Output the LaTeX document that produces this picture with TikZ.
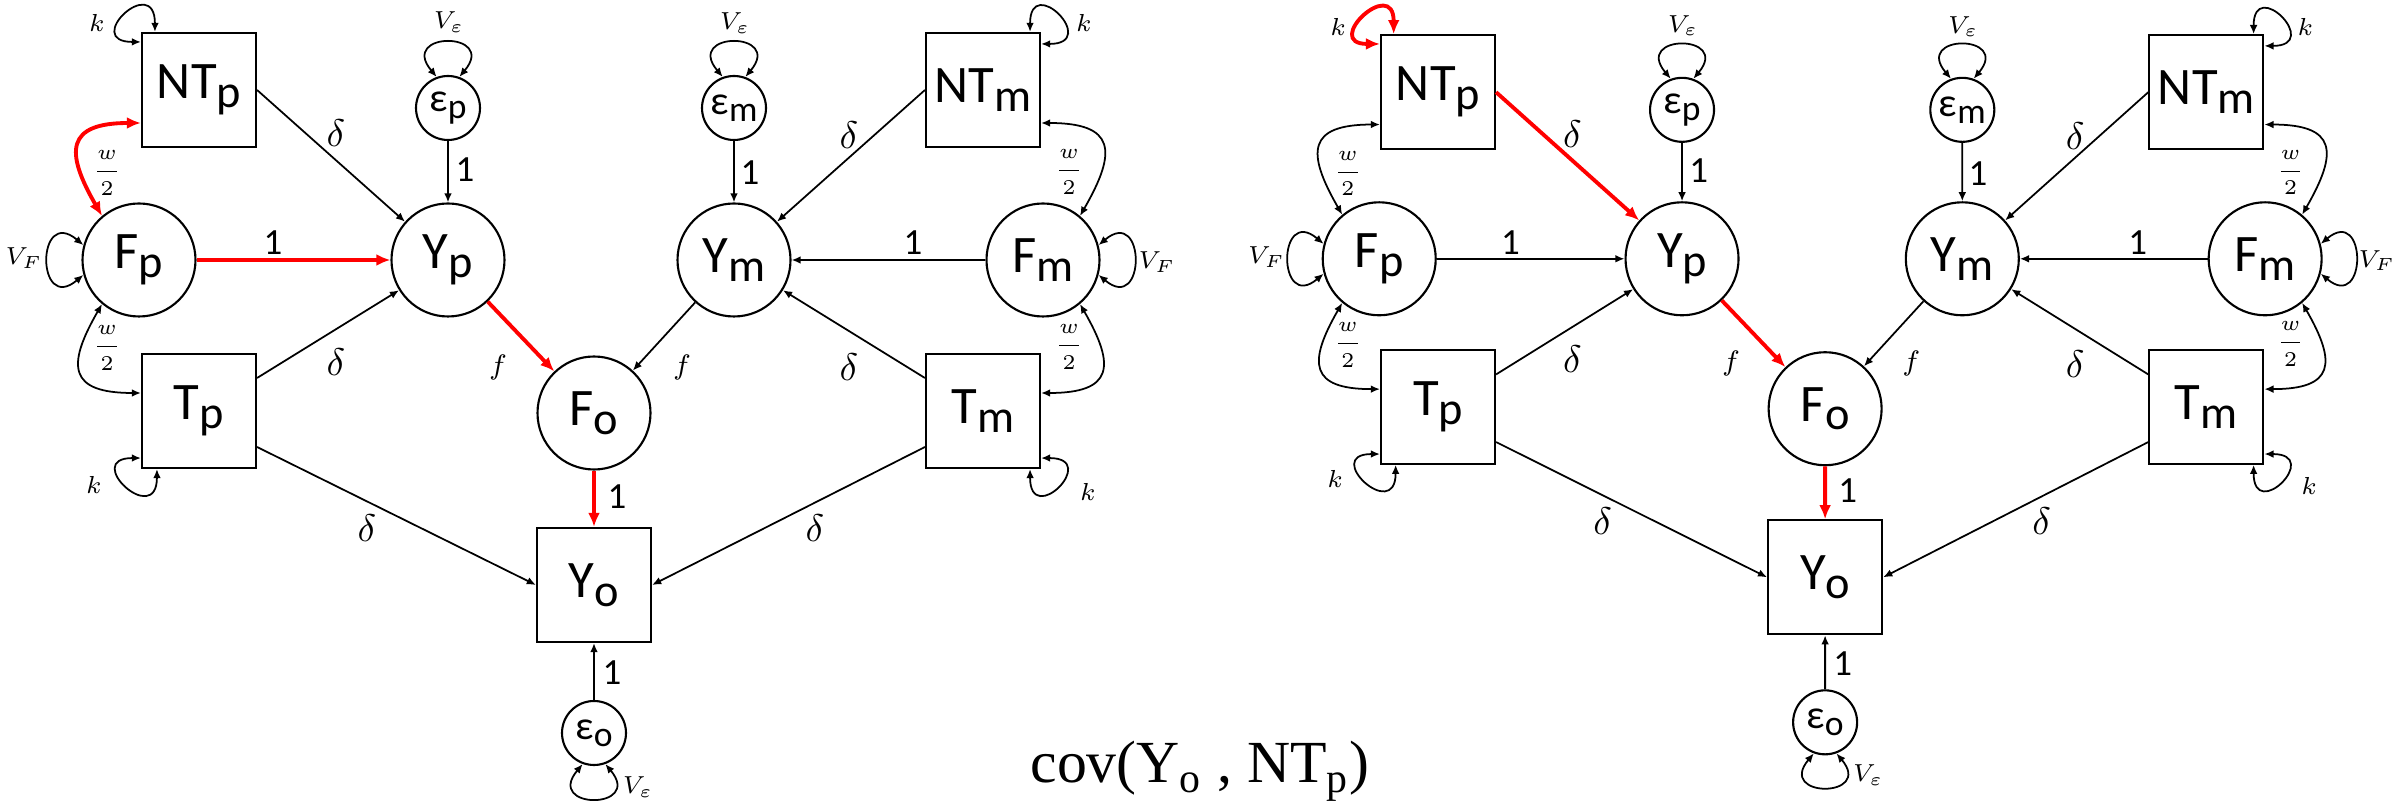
\documentclass[tikz,border=0pt]{standalone}
\usepackage{fontspec}
\setmainfont{Carlito}
\newfontfamily\capfont{Liberation Serif}
\usetikzlibrary{arrows.meta}
\newcommand{\lo}[1]{\raisebox{-0.35ex}{\scalebox{0.88}{#1}}}

\begin{document}
\begin{tikzpicture}[
  obs/.style={draw, line width=0.6pt, minimum width=1.14cm, minimum height=1.14cm,
              inner sep=0pt, font=\fontsize{15}{18}\selectfont},
  lat/.style={draw, circle, line width=0.6pt, minimum size=1.13cm, inner sep=0pt,
              font=\fontsize{15}{18}\selectfont},
  res/.style={draw, circle, line width=0.6pt, minimum size=0.64cm, inner sep=0pt,
              font=\fontsize{11.5}{13}\selectfont},
  pth/.style={-{Latex[length=2.6pt,width=2.2pt]}, line width=0.5pt},
  hl/.style={-{Latex[length=4pt,width=3.4pt]}, red, line width=1.1pt},
  var/.style={{Latex[length=2.6pt,width=2.2pt]}-{Latex[length=2.6pt,width=2.2pt]}, line width=0.5pt},
  hlvar/.style={{Latex[length=4pt,width=3.4pt]}-{Latex[length=4pt,width=3.4pt]}, red, line width=1.1pt},
  one/.style={font=\fontsize{10.5}{12}\selectfont},
  dl/.style={font=\fontsize{11}{13}\selectfont},
  fl/.style={font=\fontsize{8}{10}\selectfont},
  sm/.style={font=\fontsize{7}{8}\selectfont},
  wl/.style={font=\fontsize{6}{7}\selectfont, inner sep=0pt}
]
\useasboundingbox (0,0) rectangle (24.07,-8.09);
% ---------------- left: path through F_p ----------------
\node[obs] (lNTp) at (1.99,-0.90) {NT\lo{p}};
\node[lat] (lFp) at (1.39,-2.60) {F\lo{p}};
\node[obs] (lTp) at (1.99,-4.11) {T\lo{p}};
\node[res] (lep) at (4.48,-1.08) {ε\lo{p}};
\node[lat] (lYp) at (4.48,-2.60) {Y\lo{p}};
\node[res] (lem) at (7.34,-1.08) {ε\lo{m}};
\node[lat] (lYm) at (7.34,-2.60) {Y\lo{m}};
\node[obs] (lNTm) at (9.83,-0.90) {NT\lo{m}};
\node[lat] (lFm) at (10.43,-2.60) {F\lo{m}};
\node[obs] (lTm) at (9.83,-4.11) {T\lo{m}};
\node[lat] (lFo) at (5.94,-4.13) {F\lo{o}};
\node[obs] (lYo) at (5.94,-5.85) {Y\lo{o}};
\node[res] (leo) at (5.94,-7.33) {ε\lo{o}};
\draw[pth] (lNTp.east) -- (lYp);
\draw[hl] (lFp) -- (lYp);
\draw[pth] ([yshift=0.33cm]lTp.east) -- (lYp);
\draw[pth] (lep) -- (lYp);
\draw[pth] (lem) -- (lYm);
\draw[pth] (lNTm.west) -- (lYm);
\draw[pth] (lFm) -- (lYm);
\draw[pth] ([yshift=0.33cm]lTm.west) -- (lYm);
\draw[hl] (lYp) -- (lFo);
\draw[pth] (lYm) -- (lFo);
\draw[hl] (lFo) -- (lYo);
\draw[pth] ([yshift=-0.36cm]lTp.east) -- (lYo.west);
\draw[pth] ([yshift=-0.36cm]lTm.west) -- (lYo.east);
\draw[pth] (leo) -- (lYo);
\draw[hlvar] ([yshift=-0.33cm]lNTp.west) to[out=180,in=120,looseness=1.9] (lFp.130);
\draw[var] (lFp.230) to[out=240,in=180,looseness=1.9] ([yshift=0.18cm]lTp.west);
\draw[var] ([yshift=-0.33cm]lNTm.east) to[out=0,in=60,looseness=1.9] (lFm.50);
\draw[var] (lFm.-50) to[out=-60,in=0,looseness=1.9] ([yshift=0.18cm]lTm.east);
\draw[var] ([xshift=0.14cm]lNTp.north west) to[out=90,in=180,distance=0.6cm] ([yshift=-0.10cm]lNTp.north west);
\draw[var] ([yshift=0.11cm]lTp.south west) to[out=180,in=-90,distance=0.6cm] ([xshift=0.16cm]lTp.south west);
\draw[var] ([xshift=-0.11cm]lNTm.north east) to[out=90,in=0,distance=0.6cm] ([yshift=-0.12cm]lNTm.north east);
\draw[var] ([yshift=0.11cm]lTm.south east) to[out=0,in=-90,distance=0.6cm] ([xshift=-0.11cm]lTm.south east);
\draw[var] (lFp.165) to[out=140,in=220,distance=0.62cm] (lFp.195);
\draw[var] (lFm.15) to[out=40,in=-40,distance=0.62cm] (lFm.-15);
\draw[var] (lep.110) to[out=130,in=50,distance=0.6cm] (lep.70);
\draw[var] (lem.110) to[out=130,in=50,distance=0.6cm] (lem.70);
\draw[var] (leo.250) to[out=230,in=-50,distance=0.6cm] (leo.290);
\node[sm] (lk1) at (0.97,-0.23) {$k$};
\node[sm] (lk2) at (0.94,-4.85) {$k$};
\node[sm] (lk3) at (10.84,-0.23) {$k$};
\node[sm] (lk4) at (10.88,-4.92) {$k$};
\node[sm] (lvf1) at (0.24,-2.58) {$V_F$};
\node[sm] (lvf2) at (11.57,-2.62) {$V_F$};
\node[sm] (lve1) at (4.49,-0.22) {$V_{\varepsilon}$};
\node[sm] (lve2) at (7.35,-0.23) {$V_{\varepsilon}$};
\node[sm] (lve3) at (6.38,-7.87) {$V_{\varepsilon}$};
\node[wl] (lw1) at (1.07,-1.73) {$\displaystyle\frac{w}{2}$};
\node[wl] (lw2) at (1.07,-3.48) {$\displaystyle\frac{w}{2}$};
\node[wl] (lw3) at (10.69,-1.72) {$\displaystyle\frac{w}{2}$};
\node[wl] (lw4) at (10.69,-3.47) {$\displaystyle\frac{w}{2}$};
\node[one] (l1a) at (4.65,-1.70) {1};
\node[one] (l1b) at (7.50,-1.73) {1};
\node[one] (l1c) at (2.73,-2.43) {1};
\node[one] (l1d) at (9.13,-2.43) {1};
\node[one] (l1e) at (6.17,-4.97) {1};
\node[one] (l1f) at (6.12,-6.73) {1};
\node[dl] (ld1) at (3.36,-1.33) {$\delta$};
\node[dl] (ld2) at (3.36,-3.62) {$\delta$};
\node[dl] (ld3) at (8.49,-1.35) {$\delta$};
\node[dl] (ld4) at (8.49,-3.67) {$\delta$};
\node[dl] (ld5) at (3.67,-5.28) {$\delta$};
\node[dl] (ld6) at (8.15,-5.28) {$\delta$};
\node[fl] (lf1) at (4.98,-3.67) {$f$};
\node[fl] (lf2) at (6.82,-3.67) {$f$};
% ---------------- right: path through NT_p ----------------
\begin{scope}[shift={(12.43,-0.04)}, scale=0.98]
\node[obs] (rNTp) at (1.99,-0.90) {NT\lo{p}};
\node[lat] (rFp) at (1.39,-2.60) {F\lo{p}};
\node[obs] (rTp) at (1.99,-4.11) {T\lo{p}};
\node[res] (rep) at (4.48,-1.08) {ε\lo{p}};
\node[lat] (rYp) at (4.48,-2.60) {Y\lo{p}};
\node[res] (rem) at (7.34,-1.08) {ε\lo{m}};
\node[lat] (rYm) at (7.34,-2.60) {Y\lo{m}};
\node[obs] (rNTm) at (9.83,-0.90) {NT\lo{m}};
\node[lat] (rFm) at (10.43,-2.60) {F\lo{m}};
\node[obs] (rTm) at (9.83,-4.11) {T\lo{m}};
\node[lat] (rFo) at (5.94,-4.13) {F\lo{o}};
\node[obs] (rYo) at (5.94,-5.85) {Y\lo{o}};
\node[res] (reo) at (5.94,-7.33) {ε\lo{o}};
\draw[hl] (rNTp.east) -- (rYp);
\draw[pth] (rFp) -- (rYp);
\draw[pth] ([yshift=0.33cm]rTp.east) -- (rYp);
\draw[pth] (rep) -- (rYp);
\draw[pth] (rem) -- (rYm);
\draw[pth] (rNTm.west) -- (rYm);
\draw[pth] (rFm) -- (rYm);
\draw[pth] ([yshift=0.33cm]rTm.west) -- (rYm);
\draw[hl] (rYp) -- (rFo);
\draw[pth] (rYm) -- (rFo);
\draw[hl] (rFo) -- (rYo);
\draw[pth] ([yshift=-0.36cm]rTp.east) -- (rYo.west);
\draw[pth] ([yshift=-0.36cm]rTm.west) -- (rYo.east);
\draw[pth] (reo) -- (rYo);
\draw[var] ([yshift=-0.33cm]rNTp.west) to[out=180,in=120,looseness=1.9] (rFp.130);
\draw[var] (rFp.230) to[out=240,in=180,looseness=1.9] ([yshift=0.18cm]rTp.west);
\draw[var] ([yshift=-0.33cm]rNTm.east) to[out=0,in=60,looseness=1.9] (rFm.50);
\draw[var] (rFm.-50) to[out=-60,in=0,looseness=1.9] ([yshift=0.18cm]rTm.east);
\draw[hlvar] ([xshift=0.14cm]rNTp.north west) to[out=90,in=180,distance=0.6cm] ([yshift=-0.10cm]rNTp.north west);
\draw[var] ([yshift=0.11cm]rTp.south west) to[out=180,in=-90,distance=0.6cm] ([xshift=0.16cm]rTp.south west);
\draw[var] ([xshift=-0.11cm]rNTm.north east) to[out=90,in=0,distance=0.6cm] ([yshift=-0.12cm]rNTm.north east);
\draw[var] ([yshift=0.11cm]rTm.south east) to[out=0,in=-90,distance=0.6cm] ([xshift=-0.11cm]rTm.south east);
\draw[var] (rFp.165) to[out=140,in=220,distance=0.62cm] (rFp.195);
\draw[var] (rFm.15) to[out=40,in=-40,distance=0.62cm] (rFm.-15);
\draw[var] (rep.110) to[out=130,in=50,distance=0.6cm] (rep.70);
\draw[var] (rem.110) to[out=130,in=50,distance=0.6cm] (rem.70);
\draw[var] (reo.250) to[out=230,in=-50,distance=0.6cm] (reo.290);
\node[sm] (rk1) at (0.97,-0.23) {$k$};
\node[sm] (rk2) at (0.94,-4.85) {$k$};
\node[sm] (rk3) at (10.84,-0.23) {$k$};
\node[sm] (rk4) at (10.88,-4.92) {$k$};
\node[sm] (rvf1) at (0.24,-2.58) {$V_F$};
\node[sm] (rvf2) at (11.57,-2.62) {$V_F$};
\node[sm] (rve1) at (4.49,-0.22) {$V_{\varepsilon}$};
\node[sm] (rve2) at (7.35,-0.23) {$V_{\varepsilon}$};
\node[sm] (rve3) at (6.38,-7.87) {$V_{\varepsilon}$};
\node[wl] (rw1) at (1.07,-1.73) {$\displaystyle\frac{w}{2}$};
\node[wl] (rw2) at (1.07,-3.48) {$\displaystyle\frac{w}{2}$};
\node[wl] (rw3) at (10.69,-1.72) {$\displaystyle\frac{w}{2}$};
\node[wl] (rw4) at (10.69,-3.47) {$\displaystyle\frac{w}{2}$};
\node[one] (r1a) at (4.65,-1.70) {1};
\node[one] (r1b) at (7.50,-1.73) {1};
\node[one] (r1c) at (2.73,-2.43) {1};
\node[one] (r1d) at (9.13,-2.43) {1};
\node[one] (r1e) at (6.17,-4.97) {1};
\node[one] (r1f) at (6.12,-6.73) {1};
\node[dl] (rd1) at (3.36,-1.33) {$\delta$};
\node[dl] (rd2) at (3.36,-3.62) {$\delta$};
\node[dl] (rd3) at (8.49,-1.35) {$\delta$};
\node[dl] (rd4) at (8.49,-3.67) {$\delta$};
\node[dl] (rd5) at (3.67,-5.28) {$\delta$};
\node[dl] (rd6) at (8.15,-5.28) {$\delta$};
\node[fl] (rf1) at (4.98,-3.67) {$f$};
\node[fl] (rf2) at (6.82,-3.67) {$f$};
\end{scope}
% ---------------- caption ----------------
\node[font=\capfont\fontsize{17}{20}\selectfont, anchor=base] (cap) at (12.00,-7.83)
  {cov(Y\textsubscript{o} , NT\textsubscript{p})};
\end{tikzpicture}
\end{document}
